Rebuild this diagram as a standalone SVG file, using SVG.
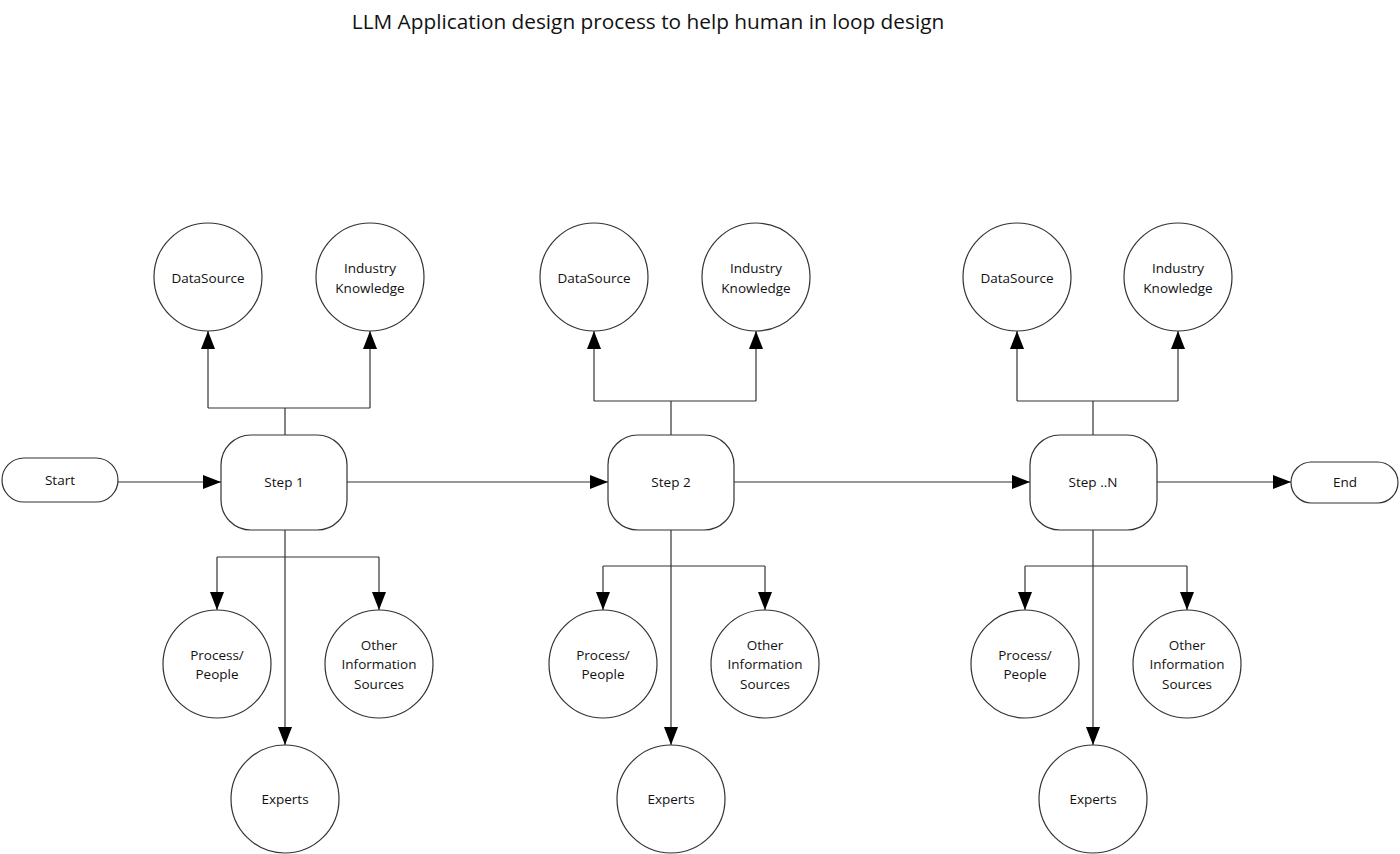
<svg xmlns="http://www.w3.org/2000/svg" width="1400" height="854" viewBox="0 0 1400 854">
<style>
.n{fill:#fff;stroke:#333;stroke-width:1.2}
.t{font-family:"Open Sans","Liberation Sans",sans-serif;font-size:13.5px;fill:#111;text-anchor:middle;dominant-baseline:central}
.c{fill:none;stroke:#333;stroke-width:1.2}
</style>
<defs>
<marker id="ah" markerUnits="userSpaceOnUse" markerWidth="20" markerHeight="14" refX="18" refY="7" orient="auto">
<path d="M0,0 L18,7 L0,14 Z" fill="#000"/>
</marker>
</defs>
<rect width="1400" height="854" fill="#fff"/>
<text x="648" y="21" style="font-family:'Open Sans','Liberation Sans',sans-serif;font-size:20.8px;fill:#111;text-anchor:middle;dominant-baseline:central">LLM Application design process to help human in loop design</text>

<g id="connectors">
<path class="c" marker-end="url(#ah)" d="M118,482 H221"/>
<path class="c" marker-end="url(#ah)" d="M347,482 H608"/>
<path class="c" marker-end="url(#ah)" d="M734,482 H1030"/>
<path class="c" marker-end="url(#ah)" d="M1157,482 H1291"/>
<!-- step1 -->
<path class="c" d="M285,435 V408 M208,408 H370"/>
<path class="c" marker-end="url(#ah)" d="M208,408 V331"/>
<path class="c" marker-end="url(#ah)" d="M370,408 V331"/>
<path class="c" d="M217,557 H379"/>
<path class="c" marker-end="url(#ah)" d="M217,557 V610"/>
<path class="c" marker-end="url(#ah)" d="M379,557 V610"/>
<path class="c" marker-end="url(#ah)" d="M285,530 V745"/>
<!-- step2 -->
<path class="c" d="M671,435 V401 M594,401 H756"/>
<path class="c" marker-end="url(#ah)" d="M594,401 V331"/>
<path class="c" marker-end="url(#ah)" d="M756,401 V331"/>
<path class="c" d="M603,566 H765"/>
<path class="c" marker-end="url(#ah)" d="M603,566 V610"/>
<path class="c" marker-end="url(#ah)" d="M765,566 V610"/>
<path class="c" marker-end="url(#ah)" d="M671,530 V745"/>
<!-- stepN -->
<path class="c" d="M1093,435 V401 M1017,401 H1178"/>
<path class="c" marker-end="url(#ah)" d="M1017,401 V331"/>
<path class="c" marker-end="url(#ah)" d="M1178,401 V331"/>
<path class="c" d="M1025,566 H1187"/>
<path class="c" marker-end="url(#ah)" d="M1025,566 V610"/>
<path class="c" marker-end="url(#ah)" d="M1187,566 V610"/>
<path class="c" marker-end="url(#ah)" d="M1093,530 V745"/>
</g>

<g id="start"><rect class="n" x="2" y="458" width="116" height="44" rx="22"/><text class="t" x="60" y="480">Start</text></g>
<g id="end"><rect class="n" x="1291" y="462" width="107" height="41" rx="20.5"/><text class="t" x="1345" y="482">End</text></g>

<g id="step1"><rect class="n" x="221" y="435" width="126" height="95" rx="30"/><text class="t" x="284" y="482">Step 1</text></g>
<g id="step2"><rect class="n" x="608" y="435" width="126" height="95" rx="30"/><text class="t" x="671" y="482">Step 2</text></g>
<g id="stepN"><rect class="n" x="1030" y="435" width="127" height="95" rx="30"/><text class="t" x="1093" y="482">Step ..N</text></g>

<g id="ds1"><circle class="n" cx="208" cy="277" r="54"/><text class="t" x="208" y="278">DataSource</text></g>
<g id="ik1"><circle class="n" cx="370" cy="277" r="54"/><text class="t" x="370" y="268">Industry</text><text class="t" x="370" y="288">Knowledge</text></g>
<g id="pp1"><circle class="n" cx="217" cy="664" r="54"/><text class="t" x="217" y="655">Process/</text><text class="t" x="217" y="674">People</text></g>
<g id="oi1"><circle class="n" cx="379" cy="664" r="54"/><text class="t" x="379" y="645">Other</text><text class="t" x="379" y="664">Information</text><text class="t" x="379" y="684">Sources</text></g>
<g id="ex1"><circle class="n" cx="285" cy="799" r="54"/><text class="t" x="285" y="799">Experts</text></g>

<g id="ds2"><circle class="n" cx="594" cy="277" r="54"/><text class="t" x="594" y="278">DataSource</text></g>
<g id="ik2"><circle class="n" cx="756" cy="277" r="54"/><text class="t" x="756" y="268">Industry</text><text class="t" x="756" y="288">Knowledge</text></g>
<g id="pp2"><circle class="n" cx="603" cy="664" r="54"/><text class="t" x="603" y="655">Process/</text><text class="t" x="603" y="674">People</text></g>
<g id="oi2"><circle class="n" cx="765" cy="664" r="54"/><text class="t" x="765" y="645">Other</text><text class="t" x="765" y="664">Information</text><text class="t" x="765" y="684">Sources</text></g>
<g id="ex2"><circle class="n" cx="671" cy="799" r="54"/><text class="t" x="671" y="799">Experts</text></g>

<g id="dsN"><circle class="n" cx="1017" cy="277" r="54"/><text class="t" x="1017" y="278">DataSource</text></g>
<g id="ikN"><circle class="n" cx="1178" cy="277" r="54"/><text class="t" x="1178" y="268">Industry</text><text class="t" x="1178" y="288">Knowledge</text></g>
<g id="ppN"><circle class="n" cx="1025" cy="664" r="54"/><text class="t" x="1025" y="655">Process/</text><text class="t" x="1025" y="674">People</text></g>
<g id="oiN"><circle class="n" cx="1187" cy="664" r="54"/><text class="t" x="1187" y="645">Other</text><text class="t" x="1187" y="664">Information</text><text class="t" x="1187" y="684">Sources</text></g>
<g id="exN"><circle class="n" cx="1093" cy="799" r="54"/><text class="t" x="1093" y="799">Experts</text></g>
</svg>
